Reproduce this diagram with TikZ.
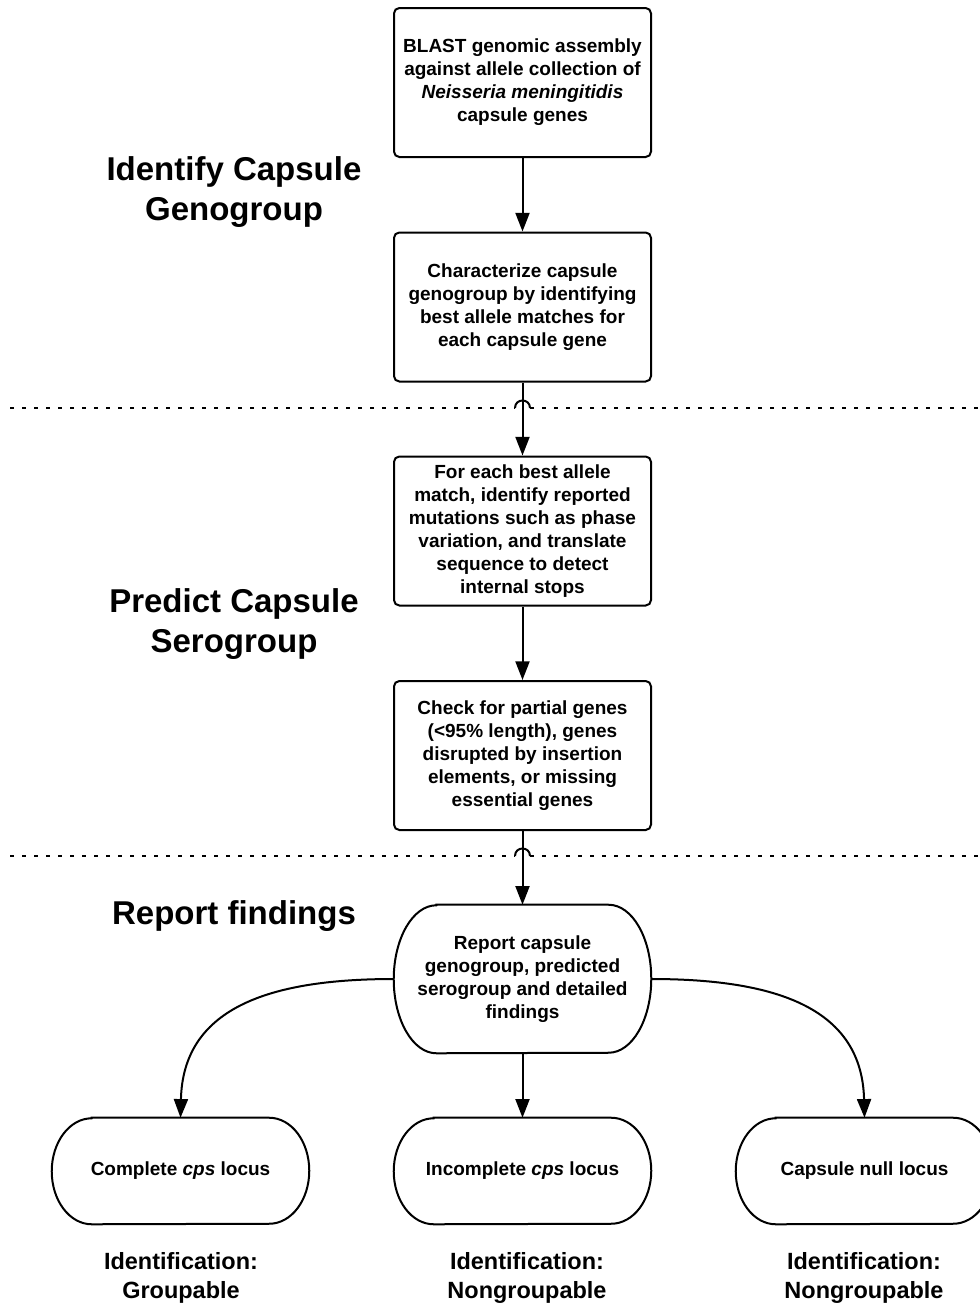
\documentclass[tikz,border=0pt]{standalone}
\usepackage{fontspec}
\setmainfont{Liberation Sans}
\usetikzlibrary{arrows.meta}
\newcommand{\mystadium}[3]{%
  \draw[line width=1.5pt] ([xshift=#2]#1.north west) -- ([xshift=-#2]#1.north east)
    arc[start angle=90,end angle=-90,x radius=#2,y radius=#3]
    -- ([xshift=#2]#1.south west)
    arc[start angle=270,end angle=90,x radius=#2,y radius=#3] -- cycle;}
\begin{document}
\begin{tikzpicture}[x=0.75pt,y=-0.75pt,
  boxfont/.style={font=\fontsize{14.25}{17.25}\selectfont\bfseries},
  procbox/.style={draw,line width=1.5pt,rounded corners=4pt,minimum width=192.75pt,minimum height=111.75pt,align=center,inner sep=0pt,boxfont},
  termbox/.style={minimum width=192.75pt,minimum height=111pt,align=center,inner sep=0pt,boxfont},
  endbox/.style={minimum width=192.75pt,minimum height=79.5pt,align=center,inner sep=0pt,boxfont},
  heading/.style={align=center,font=\fontsize{24.75}{30}\selectfont\bfseries},
  result/.style={align=center,font=\fontsize{17.6}{21.75}\selectfont\bfseries},
  arr/.style={line width=1.5pt,-{Triangle[length=14pt,width=10.5pt]}},
  sep/.style={line width=1.5pt,dash pattern=on 3pt off 6pt},
  hop/.style={line width=1.5pt}]
\useasboundingbox (0,0) rectangle (980,1304);

\node[procbox] (b1) at (522.5,82.5) {BLAST genomic assembly\\against allele collection of\\\textit{Neisseria meningitidis}\\capsule genes};
\node[procbox] (b2) at (522.5,307) {Characterize capsule\\genogroup by identifying\\best allele matches for\\each capsule gene};
\node[procbox] (b3) at (522.5,531) {For each best allele\\match, identify reported\\mutations such as phase\\variation, and translate\\sequence to detect\\internal stops};
\node[procbox] (b4) at (522.5,755.5) {Check for partial genes\\(<95\% length), genes\\disrupted by insertion\\elements, or missing\\essential genes};
\node[termbox] (rep) at (522.5,979) {Report capsule\\genogroup, predicted\\serogroup and detailed\\findings};
\node[endbox] (e1) at (180.5,1171) {Complete \textit{cps} locus};
\node[endbox] (e2) at (522.5,1171) {Incomplete \textit{cps} locus};
\node[endbox] (e3) at (864.5,1171) {Capsule null locus};
\mystadium{rep}{32pt}{55.5pt}
\mystadium{e1}{30pt}{39.75pt}
\mystadium{e2}{30pt}{39.75pt}
\mystadium{e3}{30pt}{39.75pt}

\node[heading] (h1) at (234,192.5) {Identify Capsule\\Genogroup};
\node[heading] (h2) at (234,624.5) {Predict Capsule\\Serogroup};
\node[heading] (h3) at (234,916) {Report findings};

\node[result] (r1) at (181,1277.5) {Identification:\\Groupable};
\node[result] (r2) at (527,1277.5) {Identification:\\Nongroupable};
\node[result] (r3) at (864,1277.5) {Identification:\\Nongroupable};

% separators with hops
\coordinate (s1a) at (10,408);
\coordinate (s1b) at (515,408);
\coordinate (s1c) at (530,408);
\coordinate (s1d) at (980,408);
\draw[sep] (s1a) -- (s1b);
\draw[sep] (s1c) -- (s1d);
\draw[hop] (s1b) .. controls (515,398) and (530,398) .. (s1c);
\coordinate (s2a) at (10,856);
\coordinate (s2b) at (515,856);
\coordinate (s2c) at (530,856);
\coordinate (s2d) at (980,856);
\draw[sep] (s2a) -- (s2b);
\draw[sep] (s2c) -- (s2d);
\draw[hop] (s2b) .. controls (515,846) and (530,846) .. (s2c);

% connectors
\draw[arr] (b1.south) -- (b2.north);
\draw[arr] (b2.south) -- (b3.north);
\draw[arr] (b3.south) -- (b4.north);
\draw[arr] (b4.south) -- (rep.north);
\draw[arr] (rep.south) -- (e2.north);
\draw[arr] (rep.west) .. controls (265,979) and (183,1010) .. (e1.north);
\draw[arr] (rep.east) .. controls (780,979) and (862,1010) .. (e3.north);
\end{tikzpicture}
\end{document}
